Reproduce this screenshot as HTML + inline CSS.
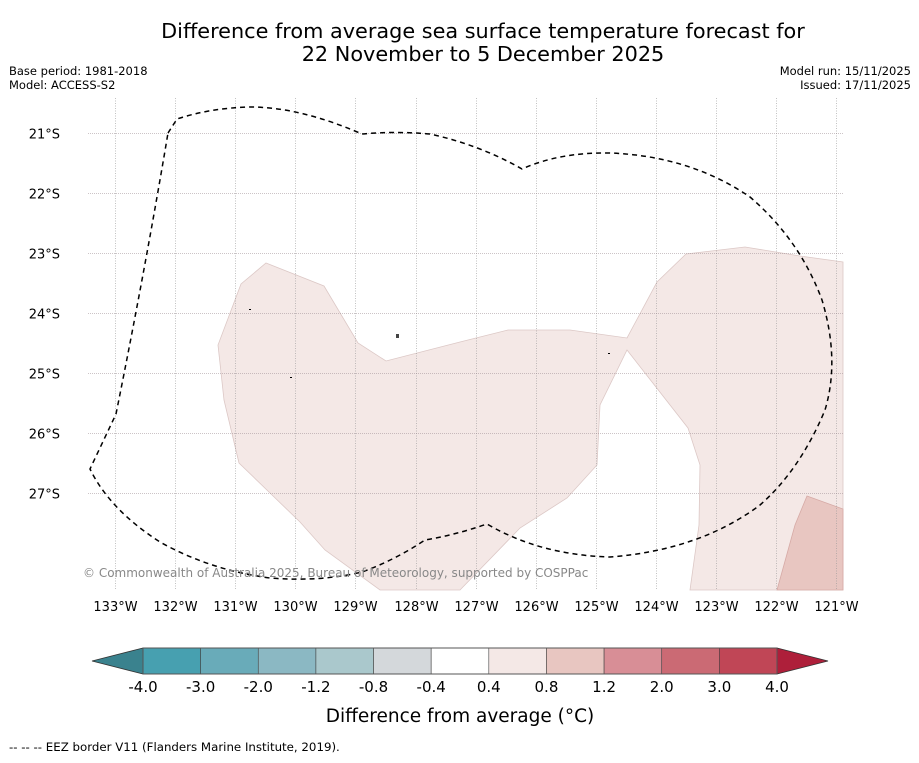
<!DOCTYPE html>
<html><head><meta charset="utf-8"><style>
body{margin:0;background:#fff;font-family:"Liberation Sans","DejaVu Sans",sans-serif;}
</style></head><body>
<svg width="919" height="758" xmlns="http://www.w3.org/2000/svg" font-family="DejaVu Sans, Liberation Sans, sans-serif">
<rect width="919" height="758" fill="#fff"/>
<text x="483" y="38" font-size="20.8" text-anchor="middle">Difference from average sea surface temperature forecast for</text>
<text x="483" y="61" font-size="20.8" text-anchor="middle">22 November to 5 December 2025</text>
<text x="9" y="75" font-size="11.5">Base period: 1981-2018</text>
<text x="9" y="89" font-size="11.5">Model: ACCESS-S2</text>
<text x="911" y="75" font-size="11.5" text-anchor="end">Model run: 15/11/2025</text>
<text x="911" y="89" font-size="11.5" text-anchor="end">Issued: 17/11/2025</text>
<g id="map">
<g>
<polygon points="266,263 324,286 358,343 386,361 460,342 508,330 570,330 627,338 657,282 686,254 745,247 800,256 843,262 843,590 690,590 699,525 700,465 688,428 627,350 600,405 597,465 567,498 520,528 460,590 380,590 325,550 300,522 270,493 239,463 224,400 218,345 241,284" fill="#f4e8e6" stroke="#dcc8c6" stroke-width="0.8"/>
<polygon points="807,496 843,509 843,590 777,590 795,525" fill="#e8c6c1" stroke="#d6aaa6" stroke-width="0.8"/>
</g>
<g id="grid"></g>
<path d="M168,133 L177,119 Q210,108 250,107 Q300,107 362,134 Q395,131 430,134 Q480,145 522,169 Q560,152 610,153 Q690,156 750,197 Q800,240 822,300 Q840,360 825,410 Q800,470 760,505 Q700,550 610,557 Q540,555 487,524 Q455,535 425,540 Q395,560 362,572 Q320,582 270,578 Q210,570 160,542 Q110,510 90,469 L116,414 Q145,270 168,133 Z" fill="none" stroke="#000" stroke-width="1.5" stroke-dasharray="5,4"/>
<rect x="249" y="309" width="2" height="1" fill="#000"/>
<rect x="396" y="334" width="3" height="4" fill="#444"/>
<rect x="290" y="377" width="2" height="1" fill="#000"/>
<rect x="608" y="353" width="2" height="1" fill="#000"/>
<text x="83" y="577" font-size="12" fill="#888">© Commonwealth of Australia 2025, Bureau of Meteorology, supported by COSPPac</text>
</g>
<g id="cbar"></g>
<text x="460" y="722" font-size="18.5" text-anchor="middle">Difference from average (°C)</text>
<text x="9" y="751" font-size="11.8">--  --  -- EEZ border V11 (Flanders Marine Institute, 2019).</text>
</svg>
<script>
const lonTicks=[133,132,131,130,129,128,127,126,125,124,123,122,121];
const latTicks=[21,22,23,24,25,26,27];
const cbarLevels=["-4.0","-3.0","-2.0","-1.2","-0.8","-0.4","0.4","0.8","1.2","2.0","3.0","4.0"];
const cbarColors=["#47a0b0","#69abb9","#8bb8c3","#aac8cc","#d4d8db","#ffffff","#f4e8e6","#e8c6c1","#d88e96","#cb6a74","#c04656"];
const NS="http://www.w3.org/2000/svg";
function xLon(l){return 115+(133-l)*60.1;}
function yLat(l){return 133+(l-21)*60;}
function mk(t,a){const e=document.createElementNS(NS,t);for(const k in a)e.setAttribute(k,a[k]);return e;}
const g=document.getElementById('grid');
lonTicks.forEach(l=>{const x=Math.round(xLon(l))+0.5;
 const ln=mk('line',{x1:x,x2:x,y1:98,y2:590,stroke:'#999','stroke-width':0.6,'stroke-dasharray':'1,1.5'});
 
 
 g.appendChild(ln);
 const t=mk('text',{x:x,y:611,'font-size':13,'text-anchor':'middle'});t.textContent=l+'°W';
 
 
 document.querySelector('svg').appendChild(t);});
latTicks.forEach(l=>{const y=yLat(l)+0.5;
 const ln=mk('line',{x1:88,x2:843,y1:y,y2:y,stroke:'#9a8a90','stroke-width':0.6,'stroke-dasharray':'1,1'});
 
 
 g.appendChild(ln);
 const t=mk('text',{x:60,y:y+5,'font-size':13,'text-anchor':'end'});t.textContent=l+'°S';
 
 
 document.querySelector('svg').appendChild(t);});
const cb=document.getElementById('cbar');
const x0=143,x1=777,y0=648,y1=674,w=(x1-x0)/cbarColors.length;
const lt=mk('polygon',{points:`${x0},${y0} ${x0},${y1} 92,661`,fill:'#3a828e',stroke:'#333','stroke-width':0.8});


cb.appendChild(lt);
const rt=mk('polygon',{points:`${x1},${y0} ${x1},${y1} 828,661`,fill:'#ae1f3a',stroke:'#333','stroke-width':0.8});


cb.appendChild(rt);
cbarColors.forEach((c,i)=>{const r=mk('rect',{x:x0+i*w,y:y0,width:w,height:y1-y0,fill:c,stroke:'#444','stroke-width':0.6});
 
 
 cb.appendChild(r);});
cb.appendChild(mk('rect',{x:x0,y:y0,width:x1-x0,height:y1-y0,fill:'none',stroke:'#555','stroke-width':1}));
cbarLevels.forEach((v,i)=>{const t=mk('text',{x:x0+i*w,y:692,'font-size':15,'text-anchor':'middle'});t.textContent=v;
 
 
 cb.appendChild(t);});
</script>
</body></html>
